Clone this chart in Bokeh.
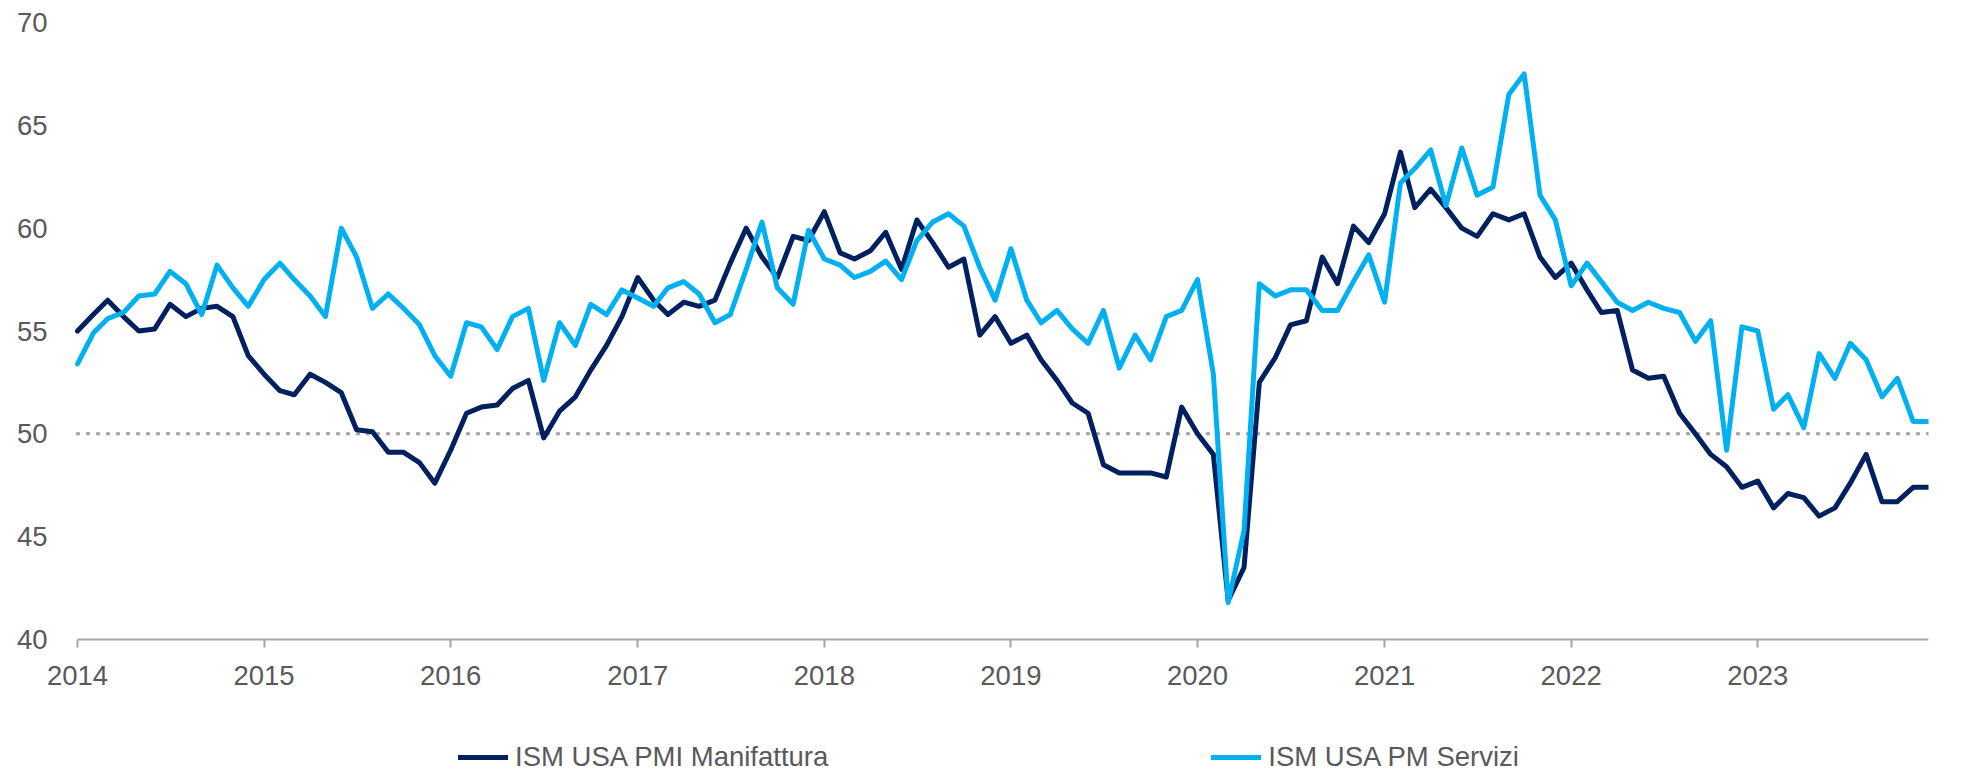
import pandas as pd
from bokeh.plotting import figure
from bokeh.models import Range1d, FixedTicker, Legend, LegendItem, DatetimeTickFormatter
from bokeh.embed import file_html
from bokeh.resources import INLINE

# Monthly observations, Jan 2014 - Dec 2023
dates = pd.date_range("2014-01-01", periods=120, freq="MS")

manifattura = [
    55.0, 55.8, 56.5, 55.7, 55.0, 55.1, 56.3, 55.7, 56.1, 56.2, 55.7, 53.8,  # 2014
    52.9, 52.1, 51.9, 52.9, 52.5, 52.0, 50.2, 50.1, 49.1, 49.1, 48.6, 47.6,  # 2015
    49.2, 51.0, 51.3, 51.4, 52.2, 52.6, 49.8, 51.1, 51.8, 53.1, 54.3, 55.7,  # 2016
    57.6, 56.5, 55.8, 56.4, 56.2, 56.5, 58.3, 60.0, 58.6, 57.6, 59.6, 59.4,  # 2017
    60.8, 58.8, 58.5, 58.9, 59.8, 58.0, 60.4, 59.3, 58.1, 58.5, 54.8, 55.7,  # 2018
    54.4, 54.8, 53.6, 52.6, 51.5, 51.0, 48.5, 48.1, 48.1, 48.1, 47.9, 51.3,  # 2019
    50.0, 49.0, 41.9, 43.5, 52.5, 53.7, 55.3, 55.5, 58.6, 57.3, 60.1, 59.3,  # 2020
    60.7, 63.7, 61.0, 61.9, 61.0, 60.0, 59.6, 60.7, 60.4, 60.7, 58.6, 57.6,  # 2021
    58.3, 57.0, 55.9, 56.0, 53.1, 52.7, 52.8, 51.0, 50.0, 49.0, 48.4, 47.4,  # 2022
    47.7, 46.4, 47.1, 46.9, 46.0, 46.4, 47.6, 49.0, 46.7, 46.7, 47.4, 47.4,  # 2023
]

servizi = [
    53.4, 54.9, 55.6, 55.9, 56.7, 56.8, 57.9, 57.3, 55.8, 58.2, 57.1, 56.2,  # 2014
    57.5, 58.3, 57.5, 56.7, 55.7, 60.0, 58.6, 56.1, 56.8, 56.1, 55.3, 53.8,  # 2015
    52.8, 55.4, 55.2, 54.1, 55.7, 56.1, 52.6, 55.4, 54.3, 56.3, 55.8, 57.0,  # 2016
    56.6, 56.2, 57.1, 57.4, 56.8, 55.4, 55.8, 58.0, 60.3, 57.1, 56.3, 59.9,  # 2017
    58.5, 58.2, 57.6, 57.9, 58.4, 57.5, 59.4, 60.3, 60.7, 60.1, 58.1, 56.5,  # 2018
    59.0, 56.5, 55.4, 56.0, 55.1, 54.4, 56.0, 53.2, 54.8, 53.6, 55.7, 56.0,  # 2019
    57.5, 52.9, 41.8, 45.3, 57.3, 56.7, 57.0, 57.0, 56.0, 56.0, 57.4, 58.7,  # 2020
    56.4, 62.2, 62.9, 63.8, 61.1, 63.9, 61.6, 62.0, 66.5, 67.5, 61.6, 60.4,  # 2021
    57.2, 58.3, 57.4, 56.4, 56.0, 56.4, 56.1, 55.9, 54.5, 55.5, 49.2, 55.2,  # 2022
    55.0, 51.2, 51.9, 50.3, 53.9, 52.7, 54.4, 53.6, 51.8, 52.7, 50.6, 50.6,  # 2023
]

series_labels = ["ISM USA PMI Manifattura", "ISM USA PM Servizi"]
years = [2014, 2015, 2016, 2017, 2018, 2019, 2020, 2021, 2022, 2023]
y_ticks = [40, 45, 50, 55, 60, 65, 70]
threshold = 50

NAVY = "#002060"
LIGHT = "#00B0F0"
GREY_TXT = "#595959"
GREY_LINE = "#A6A6A6"
FONT = "Liberation Sans"
FS = "27.5px"

# ---- layout (pixels) ----
W, H = 1964, 773
TOP, AXIS_PX = 22, 639          # 70 at TOP, 40 at AXIS_PX
FRAME_LEFT = 47                 # frame starts a little left of the first month
DATA_LEFT, DATA_RIGHT = 77, 1928
RIGHT_BORDER = W - DATA_RIGHT

px_per_unit = (AXIS_PX - TOP) / (y_ticks[-1] - y_ticks[0])
y_start = y_ticks[0] - (H - AXIS_PX) / px_per_unit

t0, t1 = dates[0], dates[-1]
ms_per_px = (t1 - t0) / (DATA_RIGHT - DATA_LEFT)
x_start = t0 - ms_per_px * (DATA_LEFT - FRAME_LEFT)

p = figure(
    width=W, height=H,
    x_axis_type="datetime",
    x_range=Range1d(x_start, t1),
    y_range=Range1d(y_start, y_ticks[-1]),
    output_backend="svg", toolbar_location=None,
    min_border_left=FRAME_LEFT, min_border_right=RIGHT_BORDER,
    min_border_top=TOP, min_border_bottom=0,
    background_fill_color="white", border_fill_color="white",
)
p.outline_line_color = None
p.grid.visible = False

# threshold line at 50 across the observation period
p.line([t0, t1], [threshold, threshold], line_color=GREY_LINE,
       line_width=3.5, line_dash="1 9", line_cap="round")

r1 = p.line(dates, manifattura, line_color=NAVY, line_width=5,
            line_join="round", line_cap="round")
r2 = p.line(dates, servizi, line_color=LIGHT, line_width=5,
            line_join="round", line_cap="round")

# x axis, pinned at y = 40 and limited to the observation period
year_ticks = [pd.Timestamp(f"{y}-01-01").value // 10**6 for y in years]
xa = p.xaxis[0]
xa.fixed_location = y_ticks[0]
xa.bounds = (t0, t1)
xa.ticker = FixedTicker(ticks=year_ticks)
xa.formatter = DatetimeTickFormatter(years="%Y", months="%Y", days="%Y", hours="%Y",
                                     minutes="%Y", seconds="%Y", milliseconds="%Y")
xa.axis_line_color = GREY_LINE
xa.axis_line_width = 2
xa.major_tick_line_color = GREY_LINE
xa.major_tick_line_width = 2
xa.major_tick_out = 8
xa.major_tick_in = 0
xa.minor_tick_line_color = None
xa.major_label_standoff = 18
xa.major_label_text_font = FONT
xa.major_label_text_font_size = FS
xa.major_label_text_color = GREY_TXT

# y axis
ya = p.yaxis[0]
ya.ticker = FixedTicker(ticks=y_ticks)
ya.axis_line_color = None
ya.major_tick_line_color = None
ya.minor_tick_line_color = None
ya.major_tick_out = 0
ya.major_tick_in = 0
ya.major_label_standoff = 0
ya.major_label_text_font = FONT
ya.major_label_text_font_size = FS
ya.major_label_text_color = GREY_TXT

legend = Legend(
    items=[LegendItem(label=series_labels[0], renderers=[r1]),
           LegendItem(label=series_labels[1], renderers=[r2])],
    orientation="horizontal",
    location=(458 - FRAME_LEFT, 0),
    padding=0, margin=0, spacing=383,
    glyph_width=50, glyph_height=20, label_standoff=7,
    border_line_color=None, background_fill_alpha=0,
    label_text_font=FONT, label_text_font_size=FS, label_text_color=GREY_TXT,
)
p.add_layout(legend)

open("out.html", "w").write(file_html(p, INLINE))
